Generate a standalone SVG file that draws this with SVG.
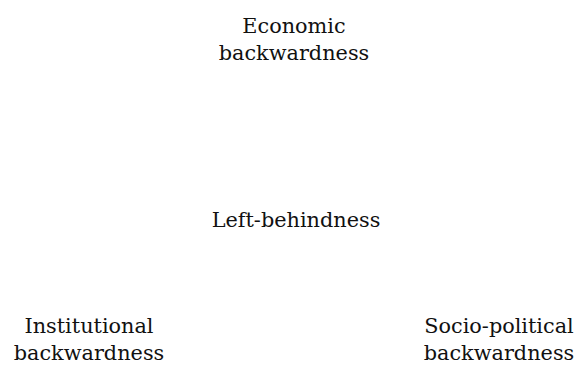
<svg xmlns="http://www.w3.org/2000/svg" width="578" height="365" viewBox="0 0 578 365">
  <style>
    .label { font-family: "DejaVu Serif", "Liberation Serif", serif; font-size: 20.8px; fill: #111; text-anchor: middle; }
  </style>
  <rect width="578" height="365" fill="#ffffff"/>
  <g id="economic">
    <text class="label" x="294" y="33">Economic</text>
    <text class="label" x="294" y="60">backwardness</text>
  </g>
  <g id="left-behindness">
    <text class="label" x="296" y="227">Left-behindness</text>
  </g>
  <g id="institutional">
    <text class="label" x="89" y="333">Institutional</text>
    <text class="label" x="89" y="360">backwardness</text>
  </g>
  <g id="socio-political">
    <text class="label" x="499" y="333">Socio-political</text>
    <text class="label" x="499" y="360">backwardness</text>
  </g>
</svg>
